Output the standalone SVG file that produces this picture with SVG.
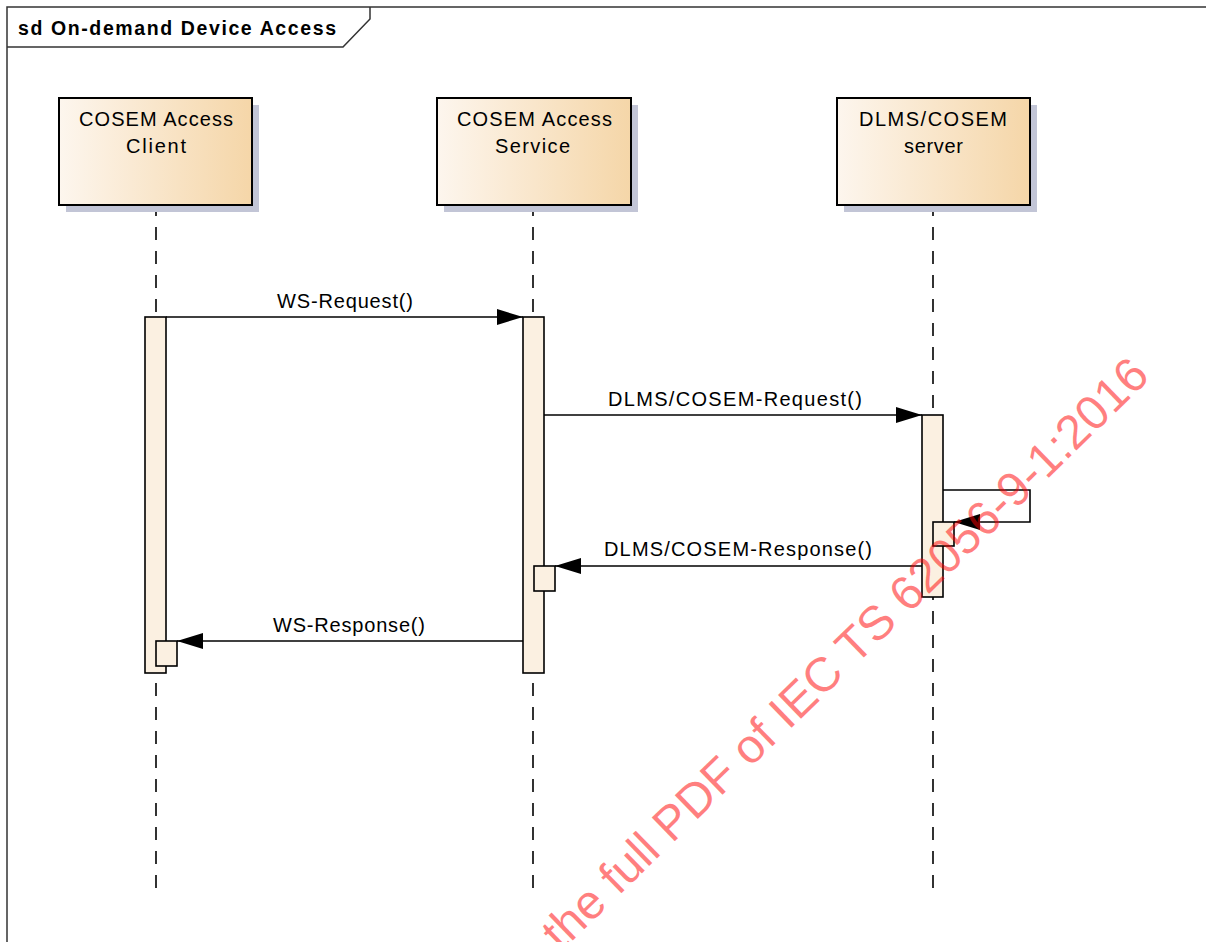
<svg xmlns="http://www.w3.org/2000/svg" width="1206" height="942" viewBox="0 0 1206 942">
  <defs>
    <linearGradient id="headFill" x1="0" y1="0" x2="1" y2="0">
      <stop offset="0" stop-color="#fdf6ee"/>
      <stop offset="1" stop-color="#f5d6a8"/>
    </linearGradient>
    <marker id="arrowFilled" viewBox="0 0 26 16" refX="26" refY="8" markerWidth="26" markerHeight="16" markerUnits="userSpaceOnUse" orient="auto">
      <path d="M0,0 L26,8 L0,16 Z" fill="#000"/>
    </marker>
    <style>
      .frame { fill: none; stroke: #333; stroke-width: 1.5; }
      .title { font-family: "Liberation Sans", Arial, sans-serif; font-size: 19.5px; font-weight: bold; fill: #000; }
      .head { fill: url(#headFill); stroke: #000; stroke-width: 2; }
      .shadow { fill: #c2c5d6; }
      .headText { font-family: "Liberation Sans", Arial, sans-serif; font-size: 20px; fill: #000; }
      .lifeline { stroke: #000; stroke-width: 1.6; stroke-dasharray: 13 11; stroke-dashoffset: 2; fill: none; }
      .act { fill: #fbf0e1; stroke: #000; stroke-width: 1.6; }
      .msg { stroke: #000; stroke-width: 1.6; fill: none; marker-end: url(#arrowFilled); }
      .label { font-family: "Liberation Sans", Arial, sans-serif; font-size: 20px; fill: #000; }
      .stamp { font-family: "Liberation Sans", Arial, sans-serif; font-size: 48px; fill: #ff0000; fill-opacity: 0.5; }
    </style>
  </defs>

  <rect width="1206" height="942" fill="#fff"/>

  <!-- sequence frame -->
  <g id="frame">
    <rect class="frame" x="7" y="7" width="1240" height="980"/>
    <path class="frame" d="M7,47 L343,47 L370,19 L370,7"/>
    <text class="title" x="18" y="35" textLength="318" lengthAdjust="spacing">sd On-demand Device Access</text>
  </g>

  <!-- lifelines -->
  <g id="lifelines">
    <line class="lifeline" x1="156" y1="205" x2="156" y2="895"/>
    <line class="lifeline" x1="533" y1="205" x2="533" y2="895"/>
    <line class="lifeline" x1="933" y1="205" x2="933" y2="895"/>
  </g>

  <!-- participants -->
  <g id="client">
    <rect class="shadow" x="66" y="105" width="193" height="107"/>
    <rect class="head" x="59" y="98" width="193" height="107"/>
    <text class="headText" x="79" y="126" textLength="154" lengthAdjust="spacing">COSEM Access</text>
    <text class="headText" x="126" y="153" textLength="60" lengthAdjust="spacing">Client</text>
  </g>
  <g id="service">
    <rect class="shadow" x="444" y="105" width="194" height="107"/>
    <rect class="head" x="437" y="98" width="194" height="107"/>
    <text class="headText" x="457" y="126" textLength="155" lengthAdjust="spacing">COSEM Access</text>
    <text class="headText" x="495" y="153" textLength="75" lengthAdjust="spacing">Service</text>
  </g>
  <g id="server">
    <rect class="shadow" x="844" y="105" width="193" height="107"/>
    <rect class="head" x="837" y="98" width="193" height="107"/>
    <text class="headText" x="859" y="126" textLength="148" lengthAdjust="spacing">DLMS/COSEM</text>
    <text class="headText" x="904" y="153" textLength="59" lengthAdjust="spacing">server</text>
  </g>

  <!-- activations -->
  <g id="activations">
    <rect id="client-act" class="act" x="145" y="317" width="21" height="356"/>
    <rect id="service-act" class="act" x="523" y="317" width="21" height="356"/>
    <rect id="server-act" class="act" x="922" y="415" width="21" height="182"/>
    <rect id="server-act-2" class="act" x="933" y="522" width="21" height="24"/>
    <rect id="service-act-2" class="act" x="534" y="566" width="21" height="25"/>
    <rect id="client-act-2" class="act" x="156" y="641" width="21" height="25"/>
  </g>

  <!-- messages -->
  <g id="connectors">
    <line class="msg" x1="166" y1="317" x2="523" y2="317"/>
    <text class="label" x="277" y="308" textLength="136" lengthAdjust="spacing">WS-Request()</text>

    <line class="msg" x1="544" y1="415" x2="922" y2="415"/>
    <text class="label" x="608" y="406" textLength="254" lengthAdjust="spacing">DLMS/COSEM-Request()</text>

    <path class="msg" d="M943,490 L1030,490 L1030,522 L954,522"/>

    <line class="msg" x1="922" y1="566" x2="555" y2="566"/>
    <text class="label" x="604" y="556" textLength="268" lengthAdjust="spacing">DLMS/COSEM-Response()</text>

    <line class="msg" x1="523" y1="641" x2="177" y2="641"/>
    <text class="label" x="273" y="632" textLength="152" lengthAdjust="spacing">WS-Response()</text>
  </g>

  <!-- document stamp -->
  <text class="stamp" transform="translate(561,952) rotate(-44.2)">the full PDF of IEC TS 62056-9-1:2016</text>
</svg>
